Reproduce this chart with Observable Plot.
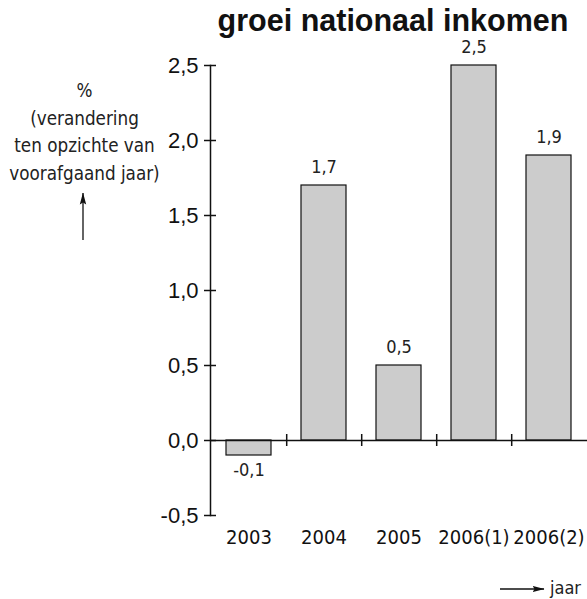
<!DOCTYPE html>
<html>
<head>
<meta charset="utf-8">
<script src="https://cdn.jsdelivr.net/npm/d3@7"></script>
<script src="https://cdn.jsdelivr.net/npm/@observablehq/plot@0.6"></script>
<style>
  html, body { margin: 0; padding: 0; background: #fff; }
  #chart svg { display: block; }
</style>
</head>
<body>
<div id="chart"></div>
<script>
const categories = ["2003", "2004", "2005", "2006(1)", "2006(2)"];
const values = [-0.1, 1.7, 0.5, 2.5, 1.9];
const yTicks = [-0.5, 0, 0.5, 1.0, 1.5, 2.0, 2.5];
const title = "groei nationaal inkomen";
const yLabel = "%\n(verandering\nten opzichte van\nvoorafgaand jaar)";
const xLabel = "jaar";

const data = categories.map((c, i) => ({year: c, value: values[i]}));
const fmt = d => d3.format(".1f")(d).replace(".", ",").replace("−", "-");
const narrow = "'Liberation Sans Narrow', 'Arial Narrow', 'DejaVu Sans Condensed', sans-serif";
const sans = "'Liberation Sans', Arial, sans-serif";
const W = 587, H = 599, mL = 210, mR = 0, mT = 65, mB = 84;
const step = (W - mL - mR) / categories.length;

const chart = Plot.plot({
  width: W, height: H,
  marginLeft: mL, marginRight: mR, marginTop: mT, marginBottom: mB,
  style: {fontFamily: narrow, color: "#111", background: "#fff"},
  x: {domain: categories, paddingInner: 0.4, paddingOuter: 0.2, label: null},
  y: {domain: [-0.5, 2.5], label: null},
  marks: [
    Plot.barY(data, {x: "year", y: "value", fill: "#cccccc", stroke: "#111", strokeWidth: 1.2}),
    Plot.ruleY([0], {stroke: "#111", strokeWidth: 1.5}),
    Plot.frame({anchor: "left", stroke: "#111", strokeWidth: 1.5}),
    Plot.ruleX(categories.slice(0, -1), {x: d => d, y1: -0.04, y2: 0.04, dx: step / 2, stroke: "#111", strokeWidth: 1.5}),
    Plot.axisY({ticks: yTicks, tickSize: 12, dx: 6, tickPadding: 6, tickFormat: fmt, fontSize: 22,
      fontFamily: sans, stroke: "#111", strokeWidth: 1.5}),
    Plot.axisX({tickSize: 0, tickPadding: 14, fontSize: 20, fontFamily: narrow}),
    Plot.text(data.filter(d => d.value >= 0), {x: "year", y: "value", text: d => fmt(d.value),
      dy: -18, fontSize: 18, fill: "#222"}),
    Plot.text(data.filter(d => d.value < 0), {x: "year", y: "value", text: d => fmt(d.value),
      dy: 15, fontSize: 18, fill: "#222"}),
    Plot.text([title], {frameAnchor: "top", dx: -6, dy: -56, fontSize: 30.5, fontWeight: "bold",
      fontFamily: sans, fill: "#111"}),
    Plot.text([yLabel], {frameAnchor: "top-left", dx: -126, dy: 64, textAnchor: "middle",
      lineAnchor: "middle", lineHeight: 1.48, fontSize: 18.7, fill: "#222"})
  ]
});

document.getElementById("chart").appendChild(chart);
const svg = d3.select(chart);

const defs = svg.append("defs");
defs.append("marker").attr("id", "ah").attr("viewBox", "0 0 12 8")
  .attr("refX", 11.5).attr("refY", 4).attr("markerWidth", 12).attr("markerHeight", 8)
  .attr("markerUnits", "userSpaceOnUse")
  .attr("orient", "auto-start-reverse")
  .append("path").attr("d", "M0,0.8 L12,4 L0,7.2 L2,4 Z").attr("fill", "#111");
svg.append("line").attr("x1", 83).attr("x2", 83).attr("y1", 240).attr("y2", 193)
  .attr("stroke", "#111").attr("stroke-width", 1.3).attr("marker-end", "url(#ah)");
svg.append("line").attr("x1", 500).attr("x2", 544).attr("y1", 589).attr("y2", 589)
  .attr("stroke", "#111").attr("stroke-width", 1.3).attr("marker-end", "url(#ah)");
svg.append("text").attr("x", 550).attr("y", 594).attr("font-size", 18)
  .attr("text-anchor", "start")
  .attr("font-family", narrow).attr("fill", "#222").text(xLabel);
</script>
</body>
</html>
